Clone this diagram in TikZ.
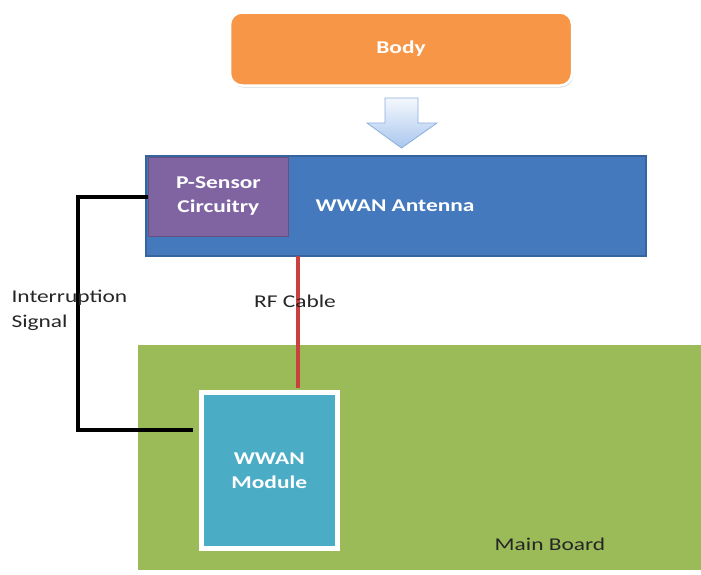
\documentclass[tikz,border=0pt]{standalone}
\usepackage{fontspec}
\setmainfont{Carlito}[FakeStretch=1.3]
\usetikzlibrary{shadows}
\definecolor{bodyorange}{HTML}{F79646}
\definecolor{antblue}{HTML}{4479BD}
\definecolor{antborder}{HTML}{35649E}
\definecolor{psens}{HTML}{8064A2}
\definecolor{boardgreen}{HTML}{9BBB59}
\definecolor{modcyan}{HTML}{4BACC6}
\definecolor{arrowtop}{HTML}{F4F8FD}
\definecolor{arrowbot}{HTML}{A9C6EE}
\definecolor{arrowedge}{HTML}{8AAEDD}
\definecolor{rfred}{HTML}{C9403F}
\tikzset{
  lbl/.style={font=\fontsize{18}{24}\selectfont\bfseries, text=white, align=center},
  plainlbl/.style={font=\fontsize{18}{25}\selectfont, text=black!85, align=left},
  wire/.style={line width=3.2pt, black},
}
\begin{document}
\begin{tikzpicture}[x=1pt,y=-1pt]
\useasboundingbox (0,0) rectangle (701,574);
% Body
\node[draw=white, line width=2.5pt, fill=bodyorange, rounded corners=12pt,
  minimum width=342pt, minimum height=73pt, drop shadow={opacity=0.3, shadow xshift=1pt, shadow yshift=-2pt},
  lbl, anchor=center] (body) at (401,49) {Body};
% Arrow (block arrow)
\draw[arrowedge, line width=0.8pt, top color=arrowtop, bottom color=arrowbot]
  (385,98) -- (418,98) -- (418,123) -- (437,123) -- (401.5,148) -- (367,123) -- (385,123) -- cycle;
% Antenna
\node[draw=antborder, line width=1.5pt, fill=antblue, minimum width=500pt, minimum height=100pt,
  anchor=north west, inner sep=0pt] (ant) at (145,155) {};
\node[lbl, anchor=center] (antlbl) at (395,206) {WWAN Antenna};
\node[fill=psens, draw=psens!80!black, line width=0.8pt, minimum width=140pt, minimum height=79pt,
  anchor=north west, inner sep=0pt, lbl] (psen) at (148,156.5) {P-Sensor\\Circuitry};
% Main board
\node[fill=boardgreen, minimum width=566pt, minimum height=225pt, anchor=north west, inner sep=0pt] (board) at (138,345) {};
\node[font=\fontsize{18}{24}\selectfont, text=black!85, anchor=center] (boardlbl) at (550,544) {Main Board};
% Module
\node[draw=white, line width=4.5pt, fill=modcyan, minimum width=136pt, minimum height=156pt,
  anchor=north west, inner sep=0pt, lbl,
  drop shadow={opacity=0.2, shadow xshift=1pt, shadow yshift=-1pt}] (mod) at (199,390) {WWAN\\Module};
% RF cable
\coordinate (rftop) at (298,256);
\coordinate (rfbot) at (298,388);
\draw[rfred, line width=3.5pt] (rftop) -- (rfbot);
\node[plainlbl, anchor=center] (rflbl) at (295,301) {RF Cable};
% Interruption wire
\coordinate (wa) at (148,197);
\coordinate (wb) at (193,430);
\draw[wire] (wa) -- (78,197) -- (78,430) -- (wb);
\node[plainlbl, anchor=west] (intlbl) at (8,310) {Interruption\\Signal};
\end{tikzpicture}
\end{document}
